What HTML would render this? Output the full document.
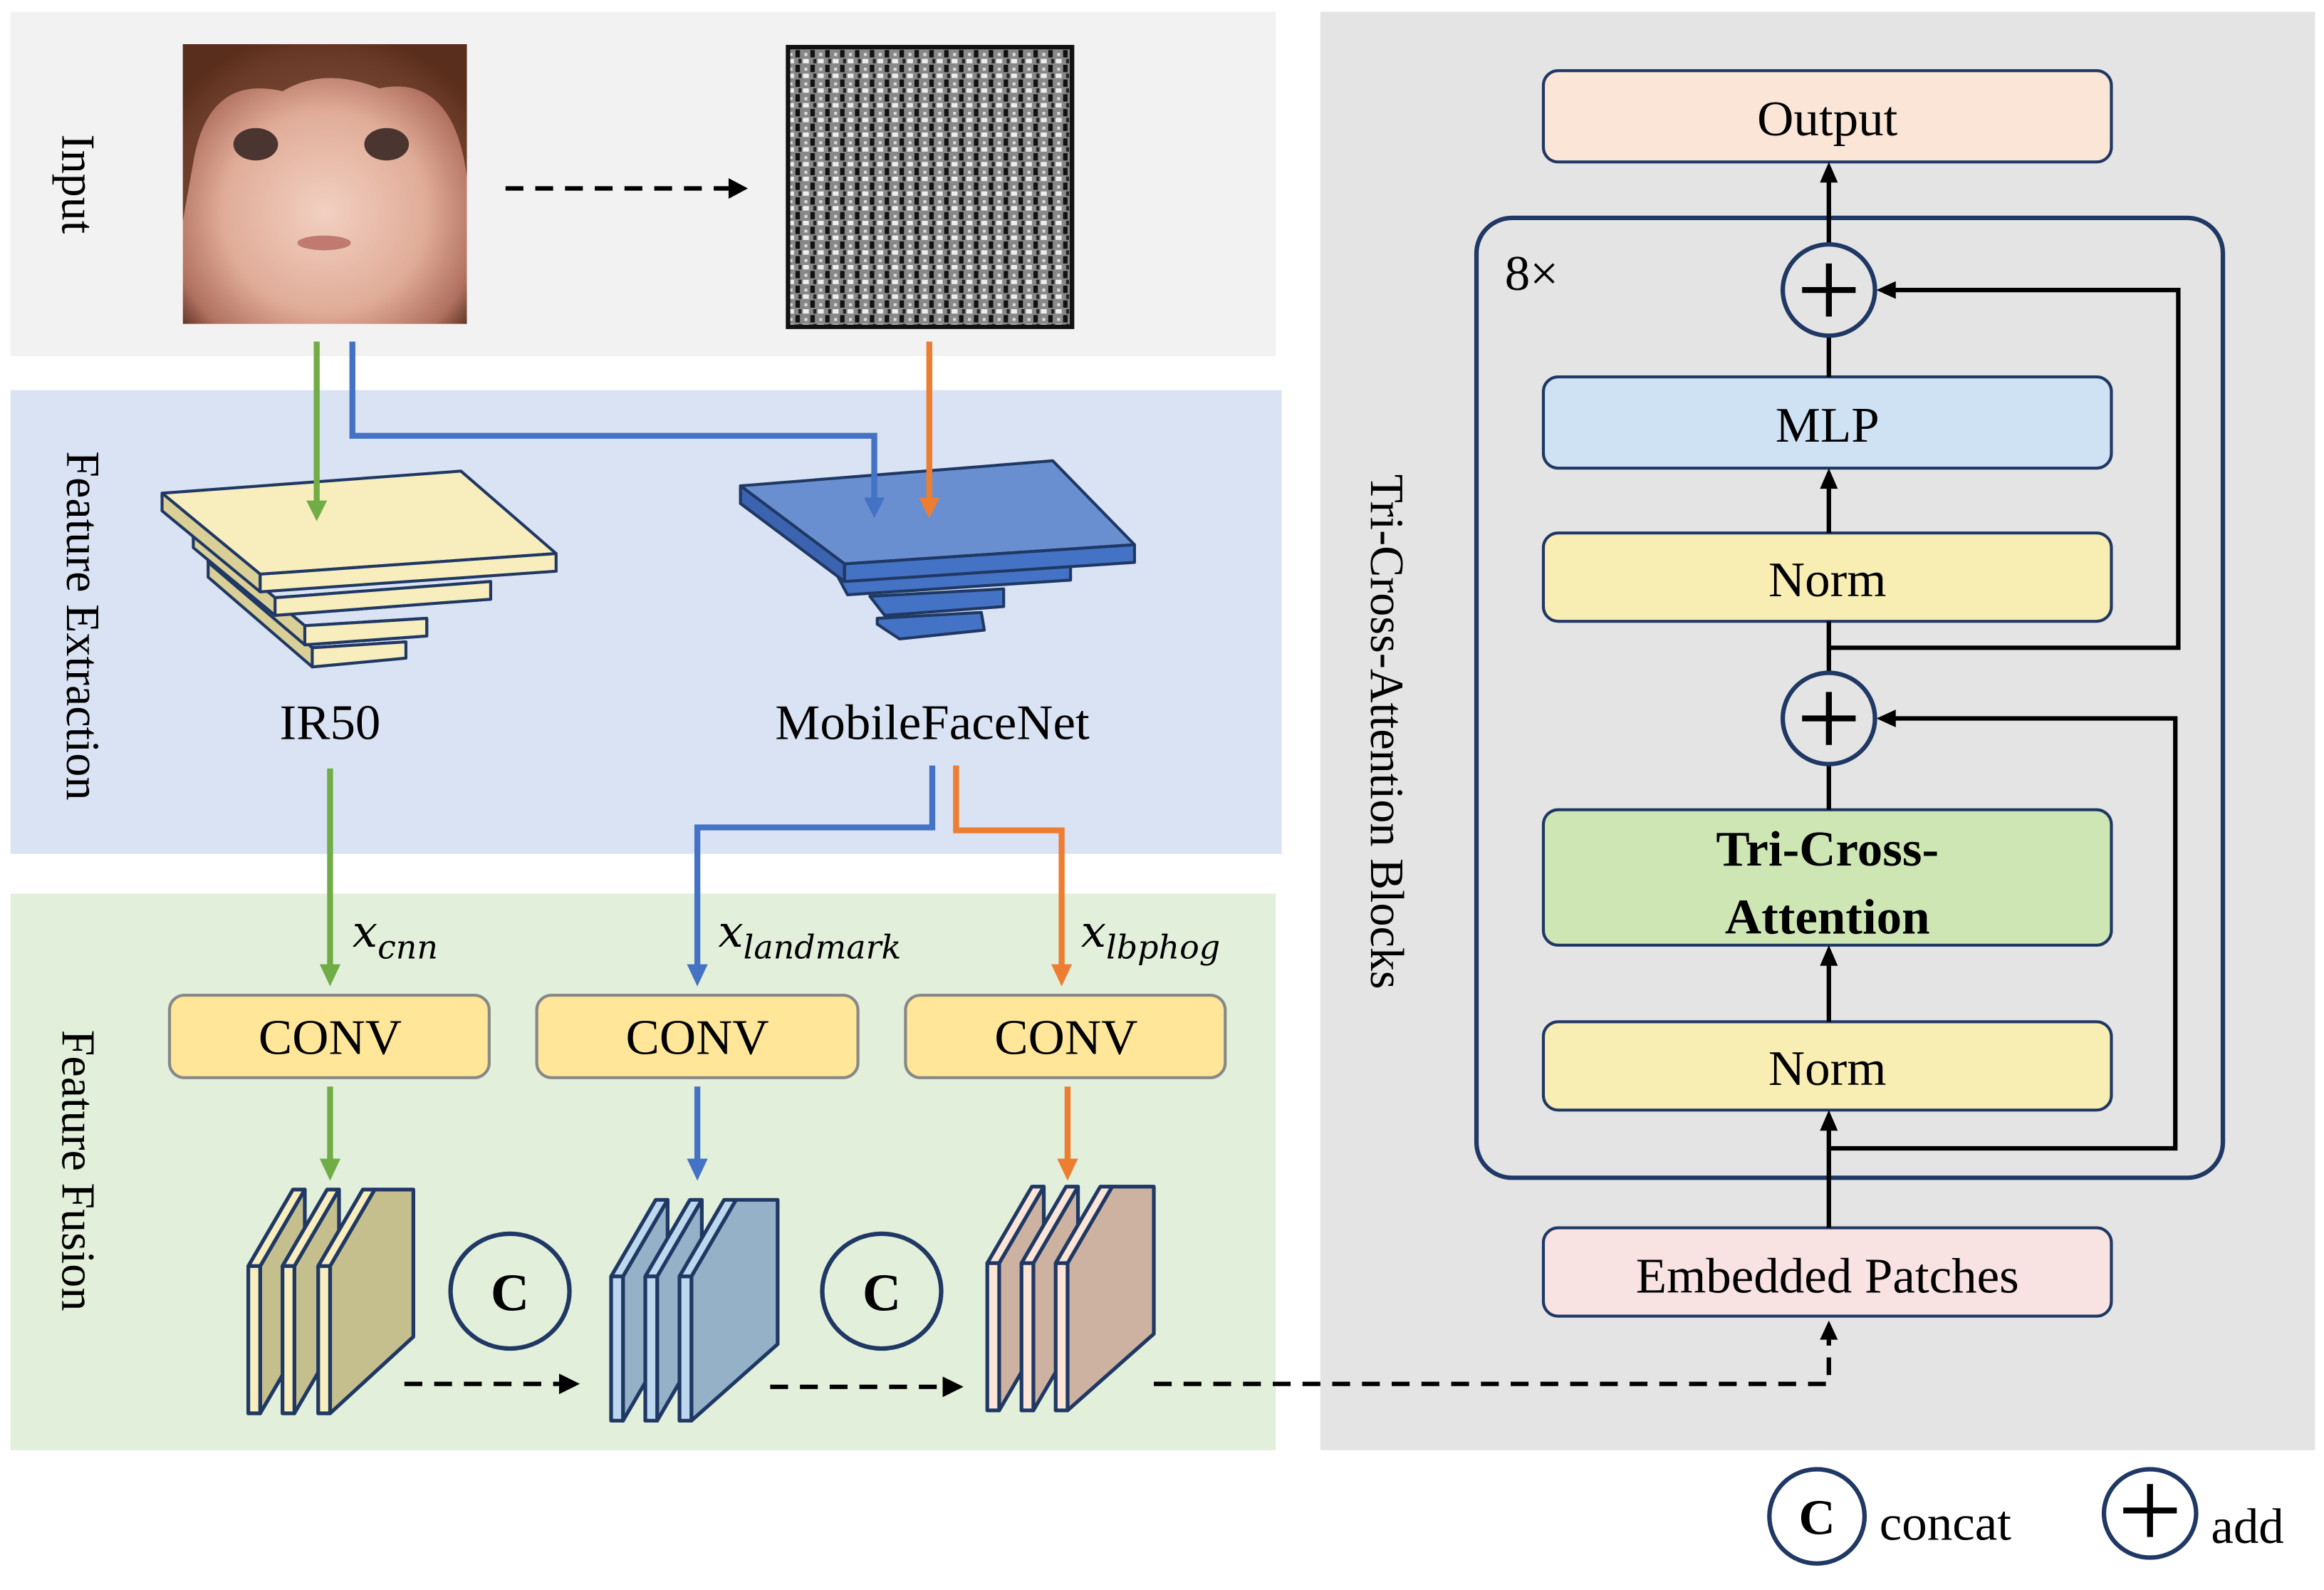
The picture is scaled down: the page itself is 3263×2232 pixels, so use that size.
<!DOCTYPE html>
<html><head><meta charset="utf-8"><style>html,body{margin:0;padding:0;background:#fff}svg{display:block}</style></head>
<body>
<svg width="3263" height="2232" viewBox="0 0 1563 1080" preserveAspectRatio="none" xmlns="http://www.w3.org/2000/svg" font-family="Liberation Serif, serif">
<defs>
<radialGradient id="face" cx="50%" cy="60%" r="65%"><stop offset="0" stop-color="#f2d0c2"/><stop offset="0.55" stop-color="#e0ac98"/><stop offset="0.85" stop-color="#b07060"/><stop offset="1" stop-color="#5a3020"/></radialGradient>
<pattern id="lbp" width="10" height="10" patternUnits="userSpaceOnUse"><rect width="10" height="10" fill="#888"/><rect width="4" height="3" fill="#eee"/><rect x="5" y="4" width="3" height="5" fill="#111"/><rect x="1" y="6" width="2" height="2" fill="#ddd"/><rect x="7" y="0" width="2" height="3" fill="#222"/></pattern>
</defs>
<rect x="7" y="8" width="851" height="234" fill="#f2f2f2"/>
<rect x="7" y="265" width="855" height="315" fill="#dae3f3"/>
<rect x="7" y="607" width="851" height="378" fill="#e2efda"/>
<rect x="888" y="8" width="669" height="977" fill="#e4e4e4"/>
<text transform="translate(42,125) rotate(90)" font-size="32" text-anchor="middle">Input</text>
<text transform="translate(45,425) rotate(90)" font-size="32" text-anchor="middle">Feature Extraction</text>
<text transform="translate(42,795) rotate(90)" font-size="32" text-anchor="middle">Feature Fusion</text>
<text transform="translate(922,497) rotate(90)" font-size="32" text-anchor="middle">Tri-Cross-Attention Blocks</text>
<rect x="123" y="30" width="191" height="190" fill="url(#face)"/>
<path d="M123,30 H314 V120 Q305,50 255,60 Q218,45 190,62 Q140,50 130,110 L123,150z" fill="#5a2e1c" opacity="0.8"/>
<ellipse cx="172" cy="98" rx="15" ry="11" fill="#4a3530"/><ellipse cx="260" cy="98" rx="15" ry="11" fill="#4a3530"/>
<ellipse cx="218" cy="165" rx="18" ry="5" fill="#c07a70"/>
<rect x="530" y="32" width="191" height="190" fill="url(#lbp)"/>
<rect x="530" y="32" width="191" height="190" fill="none" stroke="#111" stroke-width="3"/>
<line x1="340" y1="128" x2="492" y2="128" stroke="#000" stroke-width="3" stroke-dasharray="12,8"/>
<path d="M490,121 L503,128 L490,135z" fill="#000"/>
<!-- IR50 pyramid -->
<g stroke="#1f3864" stroke-width="2" stroke-linejoin="round">
<path d="M140,380 L210,440 L273,436 L273,447 L210,453 L140,392z" fill="#d9cf97"/>
<path d="M210,440 L273,436 L273,447 L210,453z" fill="#f8edbd"/>
<path d="M140,370 L205,425 L287,420 L287,432 L205,438 L140,382z" fill="#d9cf97"/>
<path d="M205,425 L287,420 L287,432 L205,438z" fill="#f8edbd"/>
<path d="M130,360 L185,406 L330,395 L330,407 L185,418 L130,372z" fill="#d9cf97"/>
<path d="M185,406 L330,395 L330,407 L185,418z" fill="#f8edbd"/>
<path d="M109,335 L310,320 L374,376 L175,390z" fill="#f8edbd"/>
<path d="M109,335 L175,390 L175,402 L109,347z" fill="#d9cf97"/>
<path d="M175,390 L374,376 L374,388 L175,402z" fill="#f8edbd"/>
</g>
<!-- MobileFaceNet pyramid -->
<g stroke="#1f3864" stroke-width="2" stroke-linejoin="round">
<path d="M590,420 L660,416 L662,428 L605,434 L590,424z" fill="#4472c4"/>
<path d="M585,405 L675,400 L675,412 L595,418z" fill="#4472c4"/>
<path d="M560,385 L720,378 L720,394 L570,404z" fill="#4472c4"/>
<path d="M498,330 L708,313 L763,370 L568,383z" fill="#6a8fd0"/>
<path d="M498,330 L568,383 L568,395 L498,342z" fill="#3b63b0"/>
<path d="M568,383 L763,370 L763,382 L568,395z" fill="#4472c4"/>
</g>
<g fill="none" stroke-width="4">
<path d="M213,232 V345" stroke="#70ad47"/>
<path d="M237,232 V296 H588 V343" stroke="#4472c4"/>
<path d="M625,232 V343" stroke="#ed7d31"/>
<path d="M222,522 V660" stroke="#70ad47"/>
<path d="M627,520 V562 H469 V660" stroke="#4472c4"/>
<path d="M643,520 V564 H714 V660" stroke="#ed7d31"/>
<path d="M222,738 V792" stroke="#70ad47"/>
<path d="M469,738 V792" stroke="#4472c4"/>
<path d="M718,738 V792" stroke="#ed7d31"/>
</g>
<g>
<path d="M206,340 L213,354 L220,340z" fill="#70ad47"/>
<path d="M581,338 L588,352 L595,338z" fill="#4472c4"/>
<path d="M618,338 L625,352 L632,338z" fill="#ed7d31"/>
<path d="M215,655 L222,670 L229,655z" fill="#70ad47"/>
<path d="M462,655 L469,670 L476,655z" fill="#4472c4"/>
<path d="M707,655 L714,670 L721,655z" fill="#ed7d31"/>
<path d="M215,787 L222,802 L229,787z" fill="#70ad47"/>
<path d="M462,787 L469,802 L476,787z" fill="#4472c4"/>
<path d="M711,787 L718,802 L725,787z" fill="#ed7d31"/>
</g>
<text x="222" y="502" font-size="34" text-anchor="middle">IR50</text>
<text x="627" y="502" font-size="34" text-anchor="middle">MobileFaceNet</text>
<text x="237" y="643" font-size="30" font-style="italic" font-family="DejaVu Serif, serif">x<tspan font-size="22" dy="8">cnn</tspan></text>
<text x="483" y="643" font-size="30" font-style="italic" font-family="DejaVu Serif, serif">x<tspan font-size="22" dy="8">landmark</tspan></text>
<text x="727" y="643" font-size="30" font-style="italic" font-family="DejaVu Serif, serif">x<tspan font-size="22" dy="8">lbphog</tspan></text>
<g fill="#ffe699" stroke="#888" stroke-width="2">
<rect x="114" y="676" width="215" height="56" rx="10"/>
<rect x="361" y="676" width="216" height="56" rx="10"/>
<rect x="609" y="676" width="215" height="56" rx="10"/>
</g>
<g font-size="34" text-anchor="middle"><text x="222" y="716">CONV</text><text x="469" y="716">CONV</text><text x="717" y="716">CONV</text></g>
<!-- layer stacks: each layer = top strip, side face, front strip -->
<g stroke="#1f3864" stroke-width="2.5" stroke-linejoin="round">
<path d="M175,860 L205,808 L205,908 L175,960z" fill="#c5bf8e"/>
<path d="M167,860 L197,808 L205,808 L175,860z" fill="#f8edbd"/><rect x="167" y="860" width="8" height="100" fill="#f8edbd"/>
<path d="M198,860 L228,808 L228,908 L198,960z" fill="#c5bf8e"/>
<path d="M190,860 L220,808 L228,808 L198,860z" fill="#f8edbd"/><rect x="190" y="860" width="8" height="100" fill="#f8edbd"/>
<path d="M222,860 L252,808 L278,808 L278,908 L222,960z" fill="#c5bf8e"/>
<path d="M214,860 L244,808 L252,808 L222,860z" fill="#f8edbd"/><rect x="214" y="860" width="8" height="100" fill="#f8edbd"/>

<path d="M419,867 L449,815 L449,913 L419,965z" fill="#95b1c8"/>
<path d="M411,867 L441,815 L449,815 L419,867z" fill="#bdd7ee"/><rect x="411" y="867" width="8" height="98" fill="#bdd7ee"/>
<path d="M442,867 L472,815 L472,913 L442,965z" fill="#95b1c8"/>
<path d="M434,867 L464,815 L472,815 L442,867z" fill="#bdd7ee"/><rect x="434" y="867" width="8" height="98" fill="#bdd7ee"/>
<path d="M465,867 L495,815 L523,815 L523,913 L465,965z" fill="#95b1c8"/>
<path d="M457,867 L487,815 L495,815 L465,867z" fill="#bdd7ee"/><rect x="457" y="867" width="8" height="98" fill="#bdd7ee"/>

<path d="M672,858 L702,806 L702,906 L672,958z" fill="#cdb2a2"/>
<path d="M664,858 L694,806 L702,806 L672,858z" fill="#fce4d6"/><rect x="664" y="858" width="8" height="100" fill="#fce4d6"/>
<path d="M695,858 L725,806 L725,906 L695,958z" fill="#cdb2a2"/>
<path d="M687,858 L717,806 L725,806 L695,858z" fill="#fce4d6"/><rect x="687" y="858" width="8" height="100" fill="#fce4d6"/>
<path d="M718,858 L748,806 L776,806 L776,906 L718,958z" fill="#cdb2a2"/>
<path d="M710,858 L740,806 L748,806 L718,858z" fill="#fce4d6"/><rect x="710" y="858" width="8" height="100" fill="#fce4d6"/>
</g>
<g fill="none" stroke="#1f3864" stroke-width="3">
<ellipse cx="343" cy="877" rx="40" ry="39"/><ellipse cx="593" cy="877" rx="40" ry="39"/>
</g>
<g font-size="36" font-weight="bold" text-anchor="middle"><text x="343" y="890">C</text><text x="593" y="890">C</text></g>
<g stroke="#000" stroke-width="3" stroke-dasharray="12,8" fill="none">
<line x1="272" y1="940" x2="378" y2="940"/>
<line x1="518" y1="942" x2="636" y2="942"/>
<path d="M776,940 H1230 V910"/>
</g>
<path d="M376,933 L390,940 L376,947z" fill="#000"/>
<path d="M634,935 L648,942 L634,949z" fill="#000"/>
<path d="M1224,910 L1230,897 L1236,910z" fill="#000"/>
<rect x="993" y="148" width="502" height="652" rx="24" fill="none" stroke="#1f3864" stroke-width="3"/>
<text x="1012" y="197" font-size="34">8×</text>
<g stroke="#1f3864" stroke-width="2">
<rect x="1038" y="48" width="382" height="62" rx="10" fill="#fbe5d6"/>
<rect x="1038" y="256" width="382" height="62" rx="10" fill="#cfe2f3"/>
<rect x="1038" y="362" width="382" height="60" rx="10" fill="#f8edb2"/>
<rect x="1038" y="550" width="382" height="92" rx="10" fill="#cde6b4"/>
<rect x="1038" y="694" width="382" height="60" rx="10" fill="#f8edb2"/>
<rect x="1038" y="834" width="382" height="60" rx="10" fill="#f8e2e2"/>
</g>
<g font-size="34" text-anchor="middle">
<text x="1229" y="92">Output</text>
<text x="1229" y="300">MLP</text>
<text x="1229" y="405">Norm</text>
<text x="1229" y="588" font-weight="bold">Tri-Cross-</text>
<text x="1229" y="634" font-weight="bold">Attention</text>
<text x="1229" y="737">Norm</text>
<text x="1229" y="878">Embedded Patches</text>
</g>
<g stroke="#000" stroke-width="3" fill="none">
<path d="M1230,834 V766"/><path d="M1230,694 V654"/><path d="M1230,550 V519"/>
<path d="M1230,457 V422"/><path d="M1230,362 V330"/><path d="M1230,256 V228"/><path d="M1230,166 V122"/>
<path d="M1230,780 H1463 V488 H1272"/>
<path d="M1230,440 H1465 V197 H1272"/>
</g>
<g fill="#000">
<path d="M1224,768 L1230,754 L1236,768z"/><path d="M1224,656 L1230,642 L1236,656z"/>
<path d="M1224,332 L1230,318 L1236,332z"/><path d="M1224,124 L1230,110 L1236,124z"/>
<path d="M1275,482 L1262,488 L1275,494z"/><path d="M1275,191 L1262,197 L1275,203z"/>
</g>
<g fill="none" stroke="#1f3864" stroke-width="3">
<circle cx="1230" cy="197" r="31"/><circle cx="1230" cy="488" r="31"/>
</g>
<g stroke="#000" stroke-width="4">
<path d="M1212,197 H1248 M1230,179 V215"/><path d="M1212,488 H1248 M1230,470 V506"/>
</g>
<ellipse cx="1222" cy="1030" rx="32" ry="32" fill="none" stroke="#1f3864" stroke-width="3"/>
<text x="1222" y="1042" font-size="34" font-weight="bold" text-anchor="middle">C</text>
<text x="1264" y="1046" font-size="34">concat</text>
<ellipse cx="1446" cy="1028" rx="31" ry="30" fill="none" stroke="#1f3864" stroke-width="3"/>
<path d="M1428,1026 H1464 M1446,1008 V1044" stroke="#000" stroke-width="4"/>
<text x="1487" y="1048" font-size="34">add</text>
</svg>
</body></html>
